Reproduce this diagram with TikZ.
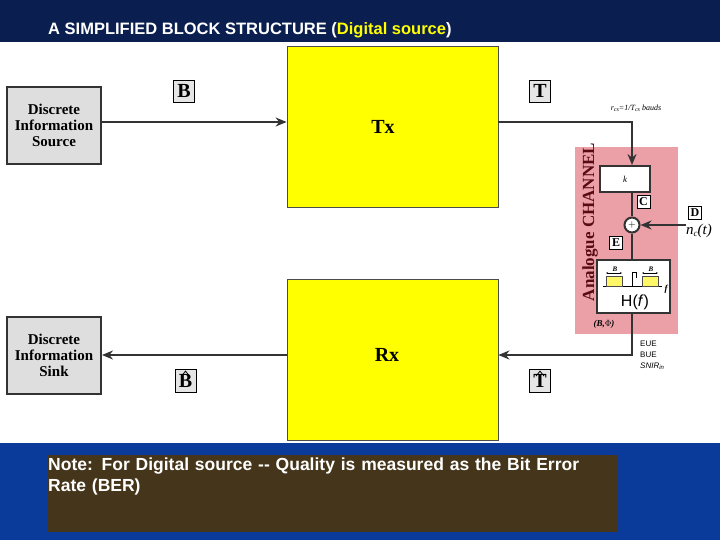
\documentclass[tikz,border=0pt]{standalone}
\usepackage{fontspec}
\setsansfont{Liberation Sans}
\newfontfamily\tnr{Liberation Serif}
\usetikzlibrary{arrows.meta}
\definecolor{navy}{HTML}{0A1F4F}
\definecolor{bandblue}{HTML}{0A3A9A}
\definecolor{notebrown}{HTML}{45351A}
\definecolor{pinkch}{HTML}{EBA0A8}
\definecolor{ylw}{HTML}{FFFF00}
\definecolor{darkred}{HTML}{5A0A14}
\tikzset{
  gbox/.style={draw=black!80,line width=2pt,fill=black!13,minimum width=94pt,minimum height=77pt,align=center,font=\tnr\bfseries\fontsize{15}{16}\selectfont,inner sep=1pt},
  ybox/.style={draw=black!70,line width=0.8pt,fill=ylw,minimum width=211pt,minimum height=161pt,font=\tnr\bfseries\fontsize{20}{20}\selectfont},
  lbl/.style={draw=black,line width=0.8pt,fill=black!10,inner sep=1.5pt,minimum width=21pt,minimum height=22pt,font=\tnr\bfseries\fontsize{20}{20}\selectfont},
  slbl/.style={draw=black,line width=0.6pt,fill=white,inner sep=0.5pt,minimum size=13pt,font=\tnr\bfseries\fontsize{12}{12}\selectfont},
  arr/.style={line width=2pt,draw=black!80,-{Stealth[length=11pt,width=9pt]}},
  ln/.style={line width=2pt,draw=black!80},
  wbox/.style={draw=black!80,line width=2pt,fill=white},
  hatln/.style={line width=0.8pt,draw=black}
}
\begin{document}
\begin{tikzpicture}[x=1pt,y=-1pt]
\useasboundingbox (0,0) rectangle (720,540);
\fill[white] (0,0) rectangle (720,540);
\fill[navy] (0,0) rectangle (720,42);
\node[anchor=base west,text=white,font=\sffamily\bfseries\fontsize{16.5}{16}\selectfont,inner sep=0pt] (title) at (48,35) {A SIMPLIFIED BLOCK STRUCTURE (\textcolor{ylw}{Digital source})};
\fill[bandblue] (0,443) rectangle (720,540);
\node[fill=notebrown,minimum width=571pt,minimum height=77pt,anchor=north west,inner sep=0pt] (note) at (47,455) {};
\node[anchor=north west,text=white,align=left,font=\sffamily\bfseries\fontsize{17.5}{21}\selectfont,text width=565pt,inner sep=0pt] (notetext) at (48,458) {Note: For Digital source {-}{-} Quality is measured as the Bit Error\\Rate (BER)};
% pink channel
\fill[pinkch] (575,147) rectangle (678,334);
\node[rotate=90,text=darkred,font=\tnr\bfseries\fontsize{17}{17}\selectfont] (chl) at (590,222) {Analogue CHANNEL};
% blocks
\node[gbox] (src) at (54,125.5) {Discrete\\Information\\Source};
\node[gbox] (snk) at (54,355) {Discrete\\Information\\Sink};
\node[ybox] (tx) at (392.5,127) {};
\node[font=\tnr\bfseries\fontsize{20}{20}\selectfont] (txl) at (383,127) {Tx};
\node[ybox] (rx) at (392.5,359.5) {};
\node[font=\tnr\bfseries\fontsize{20}{20}\selectfont] (rxl) at (387,355) {Rx};
\node[lbl] (B) at (184,91) {B};
\node[lbl] (T) at (540,91) {T};
\node[lbl,minimum height=23pt] (Bh) at (185.5,381) {\raisebox{-3pt}{B}};
\node[lbl,minimum height=23pt] (Th) at (540,381) {\raisebox{-3pt}{T}};
\draw[hatln] ([xshift=-4pt,yshift=-7pt]Bh.north) -- ([yshift=-2pt]Bh.north) -- ([xshift=4pt,yshift=-7pt]Bh.north);
\draw[hatln] ([xshift=-4pt,yshift=-7pt]Th.north) -- ([yshift=-2pt]Th.north) -- ([xshift=4pt,yshift=-7pt]Th.north);
% channel parts
\node[wbox,minimum width=50pt,minimum height=26pt,font=\tnr\itshape\fontsize{9}{9}\selectfont] (k) at (625,179) {k};
\node[wbox,circle,minimum size=15pt,inner sep=0pt,font=\fontsize{10}{10}\selectfont] (sum) at (632,225) {+};
\node[wbox,minimum width=73pt,minimum height=53pt] (H) at (633.5,286.5) {};
\node[font=\sffamily\fontsize{16}{16}\selectfont] (Hl) at (635,302) {H(\textit{f})};
\node[slbl] (C) at (643.5,201.5) {C};
\node[slbl] (D) at (695,212.5) {D};
\node[slbl] (E) at (616,243) {E};
\node[font=\tnr\itshape\fontsize{15}{15}\selectfont,anchor=west,inner sep=0pt] (nc) at (686,231) {n\raisebox{-2pt}{\fontsize{9}{9}\selectfont c}(t)};
\coordinate (nin) at (686,225);
\node[font=\tnr\itshape\fontsize{8}{8}\selectfont] (rcs) at (636,108) {r\raisebox{-1pt}{\fontsize{6}{6}\selectfont cs}=1/T\raisebox{-1pt}{\fontsize{6}{6}\selectfont cs} bauds};
\node[font=\tnr\bfseries\itshape\fontsize{9}{9}\selectfont] (bphi) at (604,324) {(B,$\Phi$)};
\node[anchor=north west,align=left,inner sep=0pt,font=\sffamily\fontsize{8}{11}\selectfont] (eue) at (640,341) {EUE\\BUE\\\textit{SNIR}\raisebox{-1pt}{\fontsize{6}{6}\selectfont\itshape in}};
% spectrum inside H
\draw[line width=0.8pt] (603,286) -- (662,286);
\fill[yellow!60!white,draw=black!70,line width=0.3pt] (606,286) rectangle (622,276);
\fill[yellow!60!white,draw=black!70,line width=0.3pt] (642,286) rectangle (658,276);
\draw[line width=0.8pt] (632,286) -- (632,272) -- (636,272) -- (636,278);
\draw[line width=0.3pt,{Stealth[length=2pt]}-{Stealth[length=2pt]}] (606,273) -- (622,273);
\draw[line width=0.3pt,{Stealth[length=2pt]}-{Stealth[length=2pt]}] (642,273) -- (658,273);
\node[font=\tnr\itshape\bfseries\fontsize{7}{7}\selectfont] (b1) at (615,269) {B};
\node[font=\tnr\itshape\bfseries\fontsize{7}{7}\selectfont] (b2) at (651,269) {B};
\node[font=\tnr\itshape\bfseries\fontsize{9}{9}\selectfont] (fl) at (666,289) {f};
% connectors
\draw[arr] (src.east |- 0,122) -- (tx.west |- 0,122);
\draw[arr] (tx.east |- 0,122) -| (k.north -| sum.north);
\draw[ln] (k.south -| sum.north) -- (sum.north);
\draw[arr] (nin) -- (sum.east);
\draw[ln] (sum.south) -- (H.north -| sum.south);
\draw[arr] (H.south -| sum.south) |- (rx.east |- 0,355);
\draw[arr] (rx.west |- 0,355) -- (snk.east |- 0,355);
\end{tikzpicture}
\end{document}
